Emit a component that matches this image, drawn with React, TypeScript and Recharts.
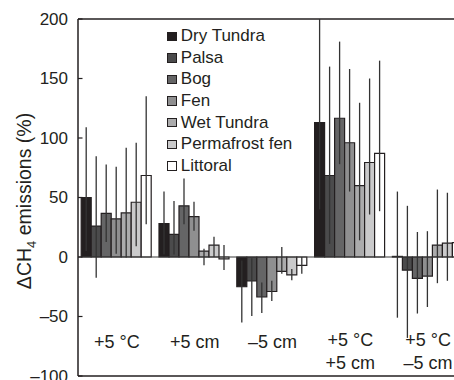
import React from 'react';
import { BarChart, Bar, XAxis, YAxis, ErrorBar, ReferenceLine, Legend } from 'recharts';

const FONT = '"Liberation Sans", Arial, Helvetica, sans-serif';
const INK = '#231f20';

const categories = ['+5 °C', '+5 cm', '–5 cm', '+5 °C\n+5 cm', '+5 °C\n–5 cm'];

const seriesNames = ['Dry Tundra', 'Palsa', 'Bog', 'Fen', 'Wet Tundra', 'Permafrost fen', 'Littoral'];
const seriesKeys = ['dryTundra', 'palsa', 'bog', 'fen', 'wetTundra', 'permafrostFen', 'littoral'];
const seriesColors = ['#231f20', '#4b4b4c', '#656566', '#8f8f90', '#ababac', '#cacacb', '#ffffff'];

const dryTundra = [50, 28, -25, 113, 0.5];
const dryTundraLow = [5, 2, -55, 40, -51];
const dryTundraHigh = [109, 55, -3, 200, 55];

const palsa = [26, 19, -20, 68.5, -11];
const palsaLow = [-17.5, 2, -49.5, 11, -68];
const palsaHigh = [84.7, 47, -1, 160, 43];

const bog = [36.6, 43, -33.6, 116.6, -18];
const bogLow = [12.6, 27.5, -47, 78, -47.5];
const bogHigh = [77.7, 66, -21.5, 181, 21];

const fen = [32, 34, -29, 96, -16];
const fenLow = [2.8, 22, -37, 55, -42];
const fenHigh = [75.8, 46.5, -20, 158, 21.7];

const wetTundra = [37, 5, -12, 60, 10];
const wetTundraLow = [-0.5, -7, -14, 14, -22];
const wetTundraHigh = [91.8, 7, 8.4, 129.6, 56.7];

const permafrostFen = [46, 10, -15, 79.4, 11.6];
const permafrostFenLow = [9, 0, -19.5, 35.7, -20];
const permafrostFenHigh = [96, 17, -10, 150, 54];

const littoral = [68.5, -1.5, -7, 87, 12];
const littoralLow = [27.5, -11, -14, 38.5, -20];
const littoralHigh = [135, 10, 0, 165, 40];

const yTicks = [-100, -50, 0, 50, 100, 150, 200];

const seriesValues = [dryTundra, palsa, bog, fen, wetTundra, permafrostFen, littoral];
const seriesLows = [dryTundraLow, palsaLow, bogLow, fenLow, wetTundraLow, permafrostFenLow, littoralLow];
const seriesHighs = [dryTundraHigh, palsaHigh, bogHigh, fenHigh, wetTundraHigh, permafrostFenHigh, littoralHigh];

const data = categories.map((category, i) => {
  const row: Record<string, any> = { category };
  seriesKeys.forEach((key, s) => {
    const v = seriesValues[s][i];
    row[key] = v;
    row[key + 'Err'] = [v - seriesLows[s][i], seriesHighs[s][i] - v];
  });
  return row;
});

const formatTick = (v: number) => (v < 0 ? '–' + Math.abs(v) : String(v));

const YTick = (props: any) => {
  const { x, y, payload } = props;
  return (
    <g>
      <line x1={x + 10} x2={x + 14.5} y1={y} y2={y} stroke={INK} strokeWidth={1.2} />
      <text x={x} y={y} dy="0.35em" textAnchor="end" fontSize={17} fontFamily={FONT} fill={INK}>
        {formatTick(payload.value)}
      </text>
    </g>
  );
};

const CategoryTick = (props: any) => {
  const { x, y, payload } = props;
  const lines = String(payload.value).split('\n');
  const base = lines.length > 1 ? y - 30 : y - 28;
  return (
    <g>
      {lines.map((l, i) => (
        <text key={i} x={x} y={base + i * 23} textAnchor="middle" fontSize={18} fontFamily={FONT} fill={INK}>
          {l}
        </text>
      ))}
    </g>
  );
};

const YLabel = (props: any) => {
  const vb = props.viewBox || { x: 0, y: 19, width: 78, height: 357 };
  const cx = vb.x + 31;
  const cy = vb.y + vb.height / 2 + 3.5;
  return (
    <text
      x={cx}
      y={cy}
      transform={`rotate(-90, ${cx}, ${cy})`}
      textAnchor="middle"
      fontSize={19.5}
      fontFamily={FONT}
      fill={INK}
    >
      <tspan>ΔCH</tspan>
      <tspan dy={5} fontSize={13}>4</tspan>
      <tspan dy={-5}> emissions (%)</tspan>
    </text>
  );
};

const LegendBox = () => (
  <div style={{ fontFamily: FONT, fontSize: 17, color: INK }}>
    {seriesNames.map((name, i) => (
      <div key={name} style={{ height: 21.6, display: 'flex', alignItems: 'center', whiteSpace: 'nowrap' }}>
        <span
          style={{
            display: 'inline-block',
            width: 9.5,
            height: 9.5,
            boxSizing: 'border-box',
            border: `1.2px solid ${INK}`,
            background: seriesColors[i],
            marginRight: 4.3,
          }}
        />
        <span>{name}</span>
      </div>
    ))}
  </div>
);

export default function App() {
  return (
    <div style={{ position: 'absolute', left: 0, top: 0, width: 454, height: 380, overflow: 'hidden', background: '#fff' }}>
      <BarChart
        width={467}
        height={386}
        data={data}
        margin={{ top: 19, right: 0, bottom: 0, left: 0 }}
        barCategoryGap={3.2}
        barGap={0}
      >
        <XAxis
          dataKey="category"
          height={10}
          interval={0}
          tickLine={false}
          tickSize={0}
          tickMargin={0}
          tick={<CategoryTick />}
          axisLine={{ stroke: INK, strokeWidth: 1.5 }}
        />
        <YAxis
          type="number"
          width={78}
          domain={[-100, 200]}
          ticks={yTicks}
          interval={0}
          allowDataOverflow
          tickLine={false}
          tickSize={6}
          tickMargin={4}
          tick={<YTick />}
          axisLine={{ stroke: INK, strokeWidth: 1.5 }}
          label={{ content: <YLabel /> }}
        />
        <ReferenceLine y={200} stroke={INK} strokeWidth={1.5} />
        <ReferenceLine y={0} stroke="#3a3a3a" strokeWidth={1.2} />
        <Legend
          layout="vertical"
          align="center"
          verticalAlign="middle"
          wrapperStyle={{ left: 167, top: 25.5, width: 170 }}
          content={() => <LegendBox />}
        />
        {seriesKeys.map((key, i) => (
          <Bar
            key={key}
            dataKey={key}
            name={seriesNames[i]}
            fill={seriesColors[i]}
            stroke={INK}
            strokeWidth={1.2}
            isAnimationActive={false}
          >
            <ErrorBar dataKey={key + 'Err'} width={0} stroke="#333333" strokeWidth={1.3} direction="y" />
          </Bar>
        ))}
      </BarChart>
    </div>
  );
}
